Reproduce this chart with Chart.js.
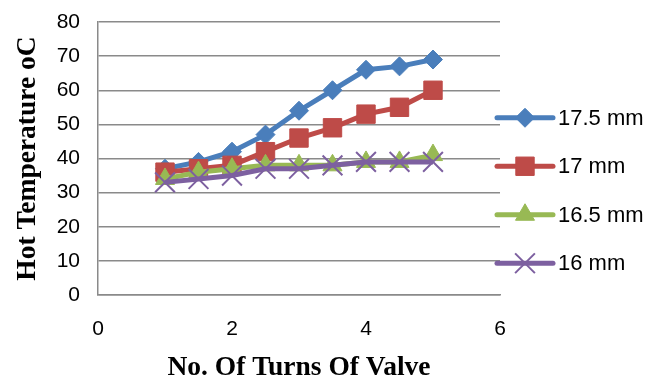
<!DOCTYPE html>
<html>
<head>
<meta charset="utf-8">
<script src="https://cdn.jsdelivr.net/npm/chart.js@4.4.1/dist/chart.umd.min.js"></script>
<style>
  html, body { margin: 0; padding: 0; background: #ffffff; }
  #wrap { width: 668px; height: 379px; }
</style>
</head>
<body>
<div id="wrap"><canvas id="chart" width="668" height="379"></canvas></div>
<script>
// Valve turns on the x axis
const turns = [1, 1.5, 2, 2.5, 3, 3.5, 4, 4.5, 5];

// Hot water temperature (°C) for each nozzle diameter
const temp175 = [37, 39, 42, 47, 54, 60, 66, 67, 69];
const temp17  = [36, 37, 38, 42, 46, 49, 53, 55, 60];
const temp165 = [34, 36, 37, 38, 38, 38, 39, 39, 41];
const temp16  = [33, 34, 35, 37, 37, 38, 39, 39, 39];

const seriesNames = ['17.5 mm', '17 mm', '16.5 mm', '16 mm'];
const xTicks = [0, 2, 4, 6];
const yTicks = [0, 10, 20, 30, 40, 50, 60, 70, 80];

const toPoints = vals => turns.map((t, i) => ({ x: t, y: vals[i] }));

const styles = [
  { color: '#4A7EBB', pointStyle: 'rectRot', radius: 9.5, pw: 1 },
  { color: '#BE4B48', pointStyle: 'rect', radius: 13, pw: 1 },
  { color: '#98B954', pointStyle: 'triangle', radius: 11, pw: 1 },
  { color: '#7D60A0', pointStyle: 'crossRot', radius: 14, pw: 2 }
];
const allValues = [temp175, temp17, temp165, temp16];

const datasets = allValues.map((vals, i) => ({
  label: seriesNames[i],
  data: toPoints(vals),
  borderColor: styles[i].color,
  backgroundColor: styles[i].color,
  borderWidth: 5,
  pointStyle: styles[i].pointStyle,
  pointRadius: styles[i].radius,
  pointHoverRadius: styles[i].radius,
  pointBorderWidth: styles[i].pw,
  pointBackgroundColor: styles[i].color,
  pointBorderColor: styles[i].color,
  tension: 0,
  order: 4 - i
}));

// Right-hand legend: line segment with the marker in its middle
const sideLegend = {
  id: 'sideLegend',
  afterDraw(chart) {
    const ctx = chart.ctx;
    const x0 = chart.chartArea.right - 3;
    const lineLen = 56;
    const gap = 48.5;
    const midY = chart.height / 2 + 1;
    const startY = midY - gap * 1.5;
    ctx.save();
    datasets.forEach((ds, i) => {
      const y = startY + i * gap;
      const st = styles[i];
      ctx.strokeStyle = st.color;
      ctx.lineWidth = 5;
      ctx.lineCap = 'round';
      ctx.beginPath();
      ctx.moveTo(x0, y);
      ctx.lineTo(x0 + lineLen, y);
      ctx.stroke();
      ctx.lineCap = 'butt';
      ctx.fillStyle = st.color;
      ctx.lineWidth = st.pw;
      Chart.helpers.drawPoint(ctx, {
        pointStyle: st.pointStyle,
        radius: st.radius,
        borderWidth: st.pw,
        rotation: 0
      }, x0 + lineLen / 2, y);
      ctx.fillStyle = '#000000';
      ctx.font = '22px "Liberation Sans", Arial, sans-serif';
      ctx.textAlign = 'left';
      ctx.textBaseline = 'middle';
      ctx.fillText(ds.label, x0 + lineLen + 5, y + 1);
    });
    ctx.restore();
  }
};

const gridGray = '#8A8A8A';

new Chart(document.getElementById('chart'), {
  type: 'line',
  data: { datasets },
  options: {
    responsive: false,
    animation: false,
    events: [],
    layout: { padding: { left: 5, right: 168, top: 22, bottom: 0 } },
    plugins: {
      legend: { display: false },
      tooltip: { enabled: false }
    },
    scales: {
      x: {
        type: 'linear',
        min: 0,
        max: 6,
        afterBuildTicks: axis => { axis.ticks = xTicks.map(v => ({ value: v })); },
        afterFit: axis => { axis.height = 84; },
        grid: { display: false, drawTicks: false },
        border: { display: true, color: gridGray, width: 1.5 },
        ticks: {
          padding: 22,
          color: '#000000',
          font: { family: '"Liberation Sans", Arial, sans-serif', size: 21 }
        },
        title: {
          display: true,
          text: 'No. Of Turns Of Valve',
          color: '#000000',
          padding: { top: 10, bottom: 0 },
          font: { family: '"Liberation Serif", "Times New Roman", serif', size: 27.5, weight: 'bold', lineHeight: 0.8 }
        }
      },
      y: {
        type: 'linear',
        min: 0,
        max: 80,
        afterBuildTicks: axis => { axis.ticks = yTicks.map(v => ({ value: v })); },
        afterFit: axis => { axis.width = 93; axis.paddingTop = 0; axis.paddingBottom = 0; },
        grid: { color: gridGray, lineWidth: 1.5, drawTicks: false },
        border: { display: true, color: gridGray, width: 1.5 },
        ticks: {
          padding: 18,
          color: '#000000',
          font: { family: '"Liberation Sans", Arial, sans-serif', size: 21 }
        },
        title: {
          display: true,
          text: 'Hot Temperature oC',
          color: '#000000',
          padding: { top: 12, bottom: 17 },
          font: { family: '"Liberation Serif", "Times New Roman", serif', size: 27.5, weight: 'bold', lineHeight: 0.8 }
        }
      }
    }
  },
  plugins: [sideLegend]
});
</script>
</body>
</html>
